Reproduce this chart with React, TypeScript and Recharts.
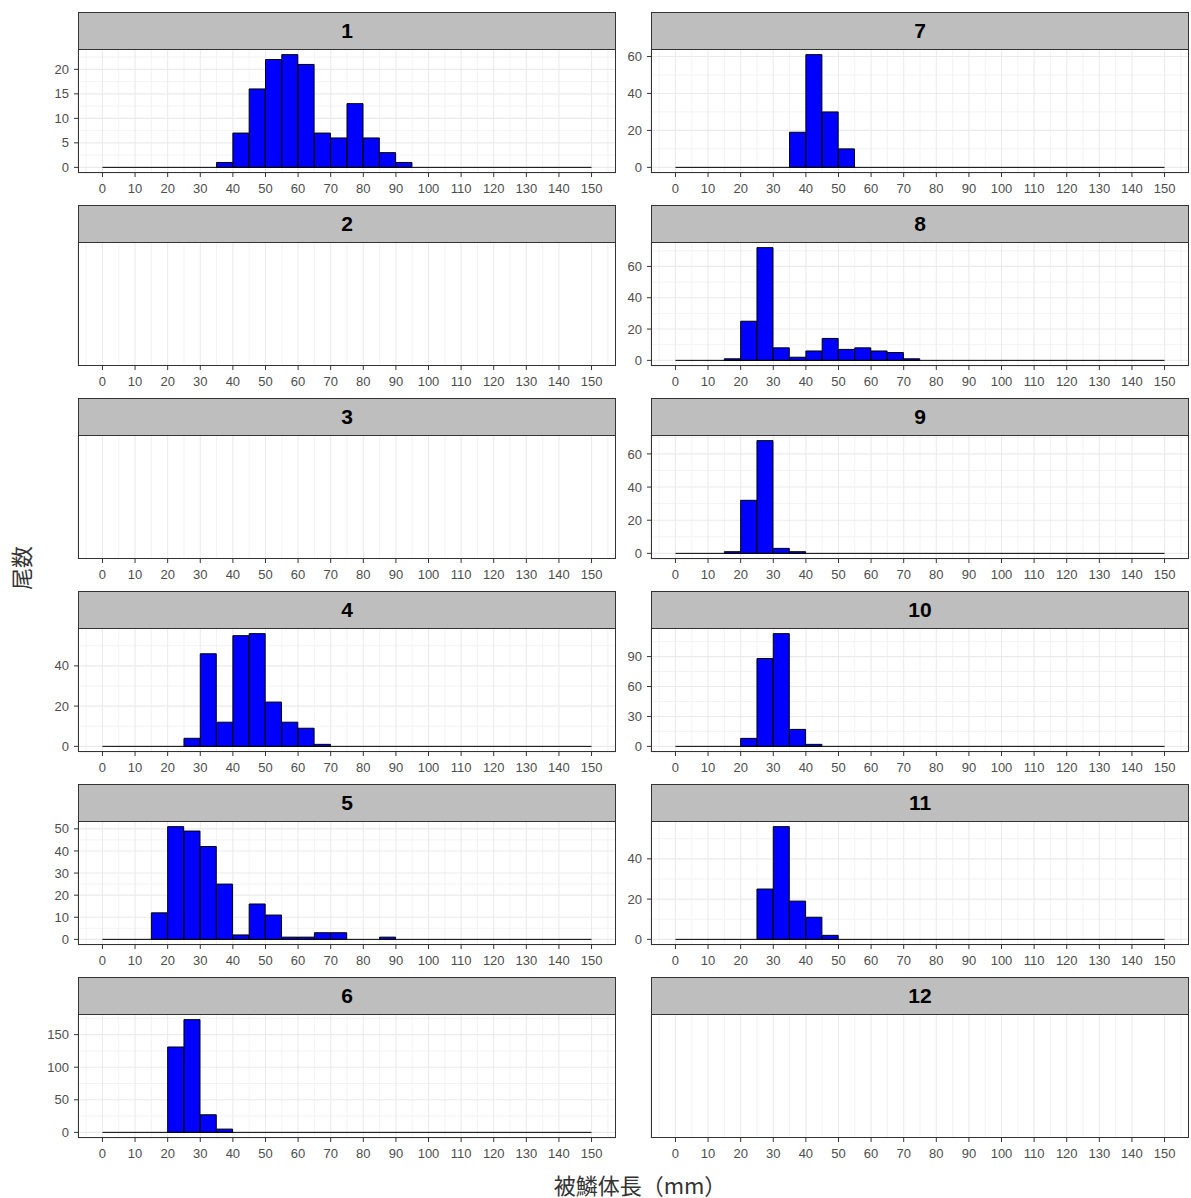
import { BarChart, Bar, XAxis, YAxis, CartesianGrid, ReferenceLine } from "recharts"

// bin lower edges (mm), width 5
const binStarts = [0, 5, 10, 15, 20, 25, 30, 35, 40, 45, 50, 55, 60, 65, 70, 75, 80, 85, 90, 95, 100, 105, 110, 115, 120, 125, 130, 135, 140, 145]
const xTicks = [0, 10, 20, 30, 40, 50, 60, 70, 80, 90, 100, 110, 120, 130, 140, 150]
const xMinorTicks = [-5, 5, 15, 25, 35, 45, 55, 65, 75, 85, 95, 105, 115, 125, 135, 145, 155]

// counts per month
const month1 = [0, 0, 0, 0, 0, 0, 0, 1, 7, 16, 22, 23, 21, 7, 6, 13, 6, 3, 1, 0, 0, 0, 0, 0, 0, 0, 0, 0, 0, 0]
const month2: number[] = []
const month3: number[] = []
const month4 = [0, 0, 0, 0, 0, 4, 46, 12, 55, 56, 22, 12, 9, 1, 0, 0, 0, 0, 0, 0, 0, 0, 0, 0, 0, 0, 0, 0, 0, 0]
const month5 = [0, 0, 0, 12, 51, 49, 42, 25, 2, 16, 11, 1, 1, 3, 3, 0, 0, 1, 0, 0, 0, 0, 0, 0, 0, 0, 0, 0, 0, 0]
const month6 = [0, 0, 0, 0, 131, 173, 27, 5, 0, 0, 0, 0, 0, 0, 0, 0, 0, 0, 0, 0, 0, 0, 0, 0, 0, 0, 0, 0, 0, 0]
const month7 = [0, 0, 0, 0, 0, 0, 0, 19, 61, 30, 10, 0, 0, 0, 0, 0, 0, 0, 0, 0, 0, 0, 0, 0, 0, 0, 0, 0, 0, 0]
const month8 = [0, 0, 0, 1, 25, 72, 8, 2, 6, 14, 7, 8, 6, 5, 1, 0, 0, 0, 0, 0, 0, 0, 0, 0, 0, 0, 0, 0, 0, 0]
const month9 = [0, 0, 0, 1, 32, 68, 3, 1, 0, 0, 0, 0, 0, 0, 0, 0, 0, 0, 0, 0, 0, 0, 0, 0, 0, 0, 0, 0, 0, 0]
const month10 = [0, 0, 0, 0, 8, 88, 113, 17, 2, 0, 0, 0, 0, 0, 0, 0, 0, 0, 0, 0, 0, 0, 0, 0, 0, 0, 0, 0, 0, 0]
const month11 = [0, 0, 0, 0, 0, 25, 56, 19, 11, 2, 0, 0, 0, 0, 0, 0, 0, 0, 0, 0, 0, 0, 0, 0, 0, 0, 0, 0, 0, 0]
const month12: number[] = []

// y tick labels and minor breaks
const yTicks1 = [0, 5, 10, 15, 20]
const yMinor1 = [2.5, 7.5, 12.5, 17.5, 22.5]
const yTicks4 = [0, 20, 40]
const yMinor4 = [10, 30, 50]
const yTicks5 = [0, 10, 20, 30, 40, 50]
const yMinor5 = [5, 15, 25, 35, 45]
const yTicks6 = [0, 50, 100, 150]
const yMinor6 = [25, 75, 125, 175]
const yTicks7 = [0, 20, 40, 60]
const yMinor7 = [10, 30, 50]
const yTicks8 = [0, 20, 40, 60]
const yMinor8 = [10, 30, 50, 70]
const yTicks9 = [0, 20, 40, 60]
const yMinor9 = [10, 30, 50, 70]
const yTicks10 = [0, 30, 60, 90]
const yMinor10 = [15, 45, 75, 105]
const yTicks11 = [0, 20, 40]
const yMinor11 = [10, 30, 50]

const panels = [
  { label: "1", counts: month1, yTicks: yTicks1, yMinor: yMinor1 },
  { label: "2", counts: month2, yTicks: [], yMinor: [] },
  { label: "3", counts: month3, yTicks: [], yMinor: [] },
  { label: "4", counts: month4, yTicks: yTicks4, yMinor: yMinor4 },
  { label: "5", counts: month5, yTicks: yTicks5, yMinor: yMinor5 },
  { label: "6", counts: month6, yTicks: yTicks6, yMinor: yMinor6 },
  { label: "7", counts: month7, yTicks: yTicks7, yMinor: yMinor7 },
  { label: "8", counts: month8, yTicks: yTicks8, yMinor: yMinor8 },
  { label: "9", counts: month9, yTicks: yTicks9, yMinor: yMinor9 },
  { label: "10", counts: month10, yTicks: yTicks10, yMinor: yMinor10 },
  { label: "11", counts: month11, yTicks: yTicks11, yMinor: yMinor11 },
  { label: "12", counts: month12, yTicks: [], yMinor: [] },
]

const AXIS_W = 40
const PANEL_W = 538
const PANEL_H = 124
const STRIP_H = 37
const XAXIS_H = 30
const colLeft = [78, 651]
const rowTop = [12, 205, 398, 591, 784, 977]
const xDomain = [-7.5, 157.5]
const tickStyle = { fill: "#4D4D4D", fontSize: 13 }

function Panel({ p, left, top }: { p: (typeof panels)[number]; left: number; top: number }) {
  const data = p.counts.map((c, i) => ({ mid: binStarts[i] + 2.5, count: c }))
  const hasData = p.counts.length > 0
  const max = hasData ? Math.max(...p.counts) : 1
  const yDomain = [-0.05 * max, 1.05 * max]

  return (
    <div style={{ position: "absolute", left: left - AXIS_W, top, width: AXIS_W + PANEL_W, height: STRIP_H + PANEL_H + XAXIS_H }}>
      <div
        style={{
          position: "absolute",
          left: AXIS_W,
          top: 0,
          width: PANEL_W,
          height: STRIP_H + 1,
          boxSizing: "border-box",
          background: "#BEBEBE",
          border: "1px solid #333333",
          display: "flex",
          alignItems: "center",
          justifyContent: "center",
          fontWeight: "bold",
          fontSize: 21,
          color: "#000",
        }}
      >
        {p.label}
      </div>
      <div style={{ position: "absolute", left: 0, top: STRIP_H }}>
        <BarChart
          width={AXIS_W + PANEL_W}
          height={PANEL_H + XAXIS_H}
          data={data}
          margin={{ top: 0, right: 0, bottom: 0, left: 0 }}
          barCategoryGap={0}
          barGap={0}
        >
          <XAxis xAxisId="minor" type="number" dataKey="mid" domain={xDomain} ticks={xMinorTicks} allowDataOverflow hide />
          <YAxis yAxisId="minor" type="number" domain={yDomain} ticks={p.yMinor} allowDataOverflow hide />
          <CartesianGrid xAxisId="minor" yAxisId="minor" stroke="#F3F3F3" strokeWidth={1} horizontal={hasData} />
          <XAxis
            xAxisId="main"
            type="number"
            dataKey="mid"
            domain={xDomain}
            ticks={xTicks}
            interval={0}
            allowDataOverflow
            height={XAXIS_H}
            axisLine={false}
            tickLine={{ stroke: "#333333" }}
            tickSize={4}
            tickMargin={7}
            tick={tickStyle}
          />
          <YAxis
            yAxisId="main"
            type="number"
            domain={yDomain}
            ticks={hasData ? p.yTicks : [0]}
            interval={0}
            allowDataOverflow
            width={AXIS_W}
            axisLine={false}
            tickLine={hasData ? { stroke: "#333333" } : false}
            tick={hasData ? tickStyle : false}
            tickSize={4}
            tickMargin={5}
          />
          <CartesianGrid xAxisId="main" yAxisId="main" stroke="#EBEBEB" strokeWidth={1.1} horizontal={hasData} />
          {hasData && (
            <ReferenceLine
              xAxisId="main"
              yAxisId="main"
              segment={[{ x: 0, y: 0 }, { x: 150, y: 0 }]}
              stroke="#000"
              strokeWidth={1}
            />
          )}
          {hasData && (
            <Bar
              xAxisId="main"
              yAxisId="main"
              dataKey="count"
              fill="#0000FF"
              stroke="#000"
              strokeWidth={1}
              isAnimationActive={false}
            />
          )}
        </BarChart>
      </div>
      <div
        style={{
          position: "absolute",
          left: AXIS_W,
          top: STRIP_H,
          width: PANEL_W,
          height: PANEL_H,
          boxSizing: "border-box",
          border: "1px solid #333333",
          pointerEvents: "none",
        }}
      />
    </div>
  )
}

export default function App() {
  return (
    <div
      style={{
        position: "absolute",
        left: 0,
        top: 0,
        width: 1191,
        height: 1198,
        background: "#fff",
        fontFamily: "'Liberation Sans', Arial, sans-serif",
      }}
    >
      {panels.map((p, i) => (
        <Panel key={p.label} p={p} left={colLeft[Math.floor(i / 6)]} top={rowTop[i % 6]} />
      ))}
      <div
        style={{
          position: "absolute",
          left: 20,
          top: 568,
          transform: "translate(-50%, -50%) rotate(-90deg)",
          fontFamily: "'Noto Sans CJK JP', sans-serif",
          fontSize: 22,
          color: "#333",
          whiteSpace: "nowrap",
        }}
      >
        尾数
      </div>
      <div
        style={{
          position: "absolute",
          left: 640,
          top: 1184,
          transform: "translate(-50%, -50%)",
          fontFamily: "'Noto Sans CJK JP', sans-serif",
          fontSize: 22,
          color: "#333",
          whiteSpace: "nowrap",
        }}
      >
        被鱗体長（mm）
      </div>
    </div>
  )
}
